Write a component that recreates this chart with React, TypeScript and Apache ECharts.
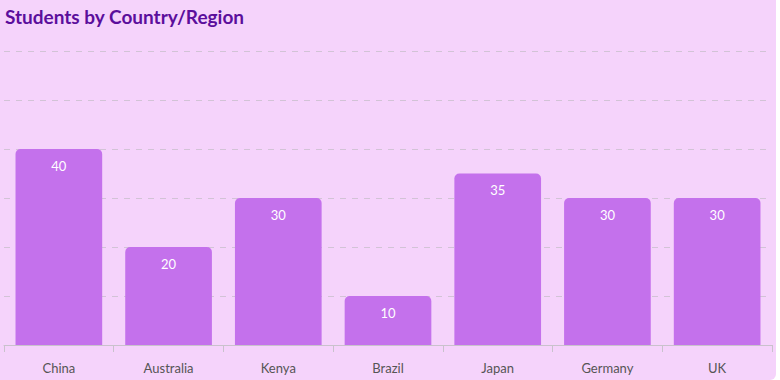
import React, { useEffect, useRef } from "react";
import * as echarts from "echarts";

const categories = ["China", "Australia", "Kenya", "Brazil", "Japan", "Germany", "UK"];
const students = [40, 20, 30, 10, 35, 30, 30];
const yMax = 60;
const yInterval = 10;
const titleText = "Students by Country/Region";

export default function App() {
  const ref = useRef<HTMLDivElement>(null);
  useEffect(() => {
    if (!ref.current) return;
    const chart = echarts.init(ref.current, null, { renderer: "svg" });
    chart.setOption({
      animation: false,
      backgroundColor: "transparent",
      title: {
        text: titleText,
        left: 0,
        top: 2,
        textStyle: {
          fontFamily: "Lato",
          fontSize: 19,
          fontWeight: "bold",
          color: "#5b0e9c",
        },
      },
      grid: { left: 4, right: 8, top: 51, bottom: 35, containLabel: false },
      xAxis: {
        type: "category",
        data: categories,
        boundaryGap: true,
        axisLine: { lineStyle: { color: "#c9c2cc", width: 1 } },
        axisTick: { show: true, length: 7, lineStyle: { color: "#c9c2cc" } },
        axisLabel: {
          color: "#555",
          fontFamily: "Lato",
          fontSize: 13,
          margin: 16,
        },
      },
      yAxis: {
        type: "value",
        min: 0,
        max: yMax,
        interval: yInterval,
        axisLabel: { show: false },
        axisLine: { show: false },
        axisTick: { show: false },
        splitLine: {
          lineStyle: { color: "#d2c3d6", type: [6, 6], width: 1 },
        },
      },
      series: [
        {
          type: "bar",
          data: students,
          barCategoryGap: "21%",
          itemStyle: { color: "#c471ec", borderRadius: [5, 5, 0, 0] },
          label: {
            show: true,
            position: "insideTop",
            distance: 10,
            color: "#ffffff",
            fontFamily: "Lato",
            fontSize: 13,
          },
        },
      ],
    });
    return () => chart.dispose();
  }, []);
  return (
    <div
      style={{
        position: "fixed",
        left: 0,
        top: 0,
        width: 780,
        height: 380,
        background: "#ffffff",
      }}
    >
      <div
        style={{
          position: "absolute",
          left: 0,
          top: 0,
          width: 776,
          height: 380,
          background: "#f5d3fb",
          borderRadius: "0 0 6px 0",
        }}
      />
      <div ref={ref} style={{ position: "absolute", left: 0, top: 0, width: 780, height: 380 }} />
    </div>
  );
}
